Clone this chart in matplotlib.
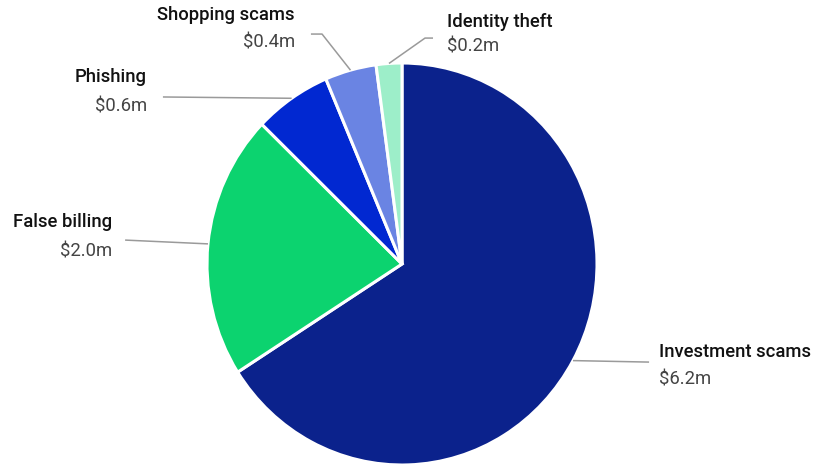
import numpy as np
import matplotlib
matplotlib.use("Agg")
import matplotlib.pyplot as plt

plt.rcParams['font.family'] = ['Roboto', 'DejaVu Sans']

# scam losses, largest first, drawn clockwise from 12 o'clock
categories = ["Investment scams", "False billing", "Phishing", "Shopping scams", "Identity theft"]
losses = [6.2, 2.0, 0.6, 0.4, 0.2]   # $ millions
colors = ["#0b228c", "#0cd36f", "#0128d1", "#6a84e3", "#9deec9"]

# label layout (pie radius = 1): text x, name y, value y, alignment, leader elbow, leader end
label_layout = [
    (1.318, -0.438, -0.577, "left", (1.267, -0.488), (1.267, -0.488)),
    (-1.487, 0.209, 0.06, "right", (-1.42, 0.119), (-1.42, 0.119)),
    (-1.308, 0.93, 0.786, "right", (-1.226, 0.831), (-1.226, 0.831)),
    (-0.549, 1.239, 1.104, "right", (-0.41, 1.144), (-0.467, 1.144)),
    (0.231, 1.204, 1.08, "left", (0.118, 1.124), (0.159, 1.124)),
]

fig = plt.figure(figsize=(8.15, 4.68), dpi=100)
ax = fig.add_axes([0, 0, 1, 1])

wedges, _ = ax.pie(losses, colors=colors, startangle=90, counterclock=False, radius=1,
                   wedgeprops=dict(edgecolor="white", linewidth=2.2))

for w, name, val, lay in zip(wedges, categories, losses, label_layout):
    tx, ny, vy, ha, elbow, end = lay
    mid = np.deg2rad((w.theta1 + w.theta2) / 2)
    sx, sy = np.cos(mid), np.sin(mid)
    ax.plot([sx, elbow[0], end[0]], [sy, elbow[1], end[1]], color="#9a9a9a", lw=1.1,
            solid_capstyle="butt")
    ax.text(tx, ny, name, ha=ha, va="center", fontsize=13.3, fontweight="medium", color="#111111")
    ax.text(tx, vy, f"${val:.1f}m", ha=ha, va="center", fontsize=13.3, fontweight="normal",
            color="#444444")

# pie is slightly taller than wide: 195 px per unit across, 201 px per unit down
ax.set_aspect("auto")
ax.set_xlim(-402 / 195, (815 - 402) / 195)
ax.set_ylim(-(468 - 264) / 201, 264 / 201)
ax.axis("off")

fig.savefig("out.png", dpi=100)
